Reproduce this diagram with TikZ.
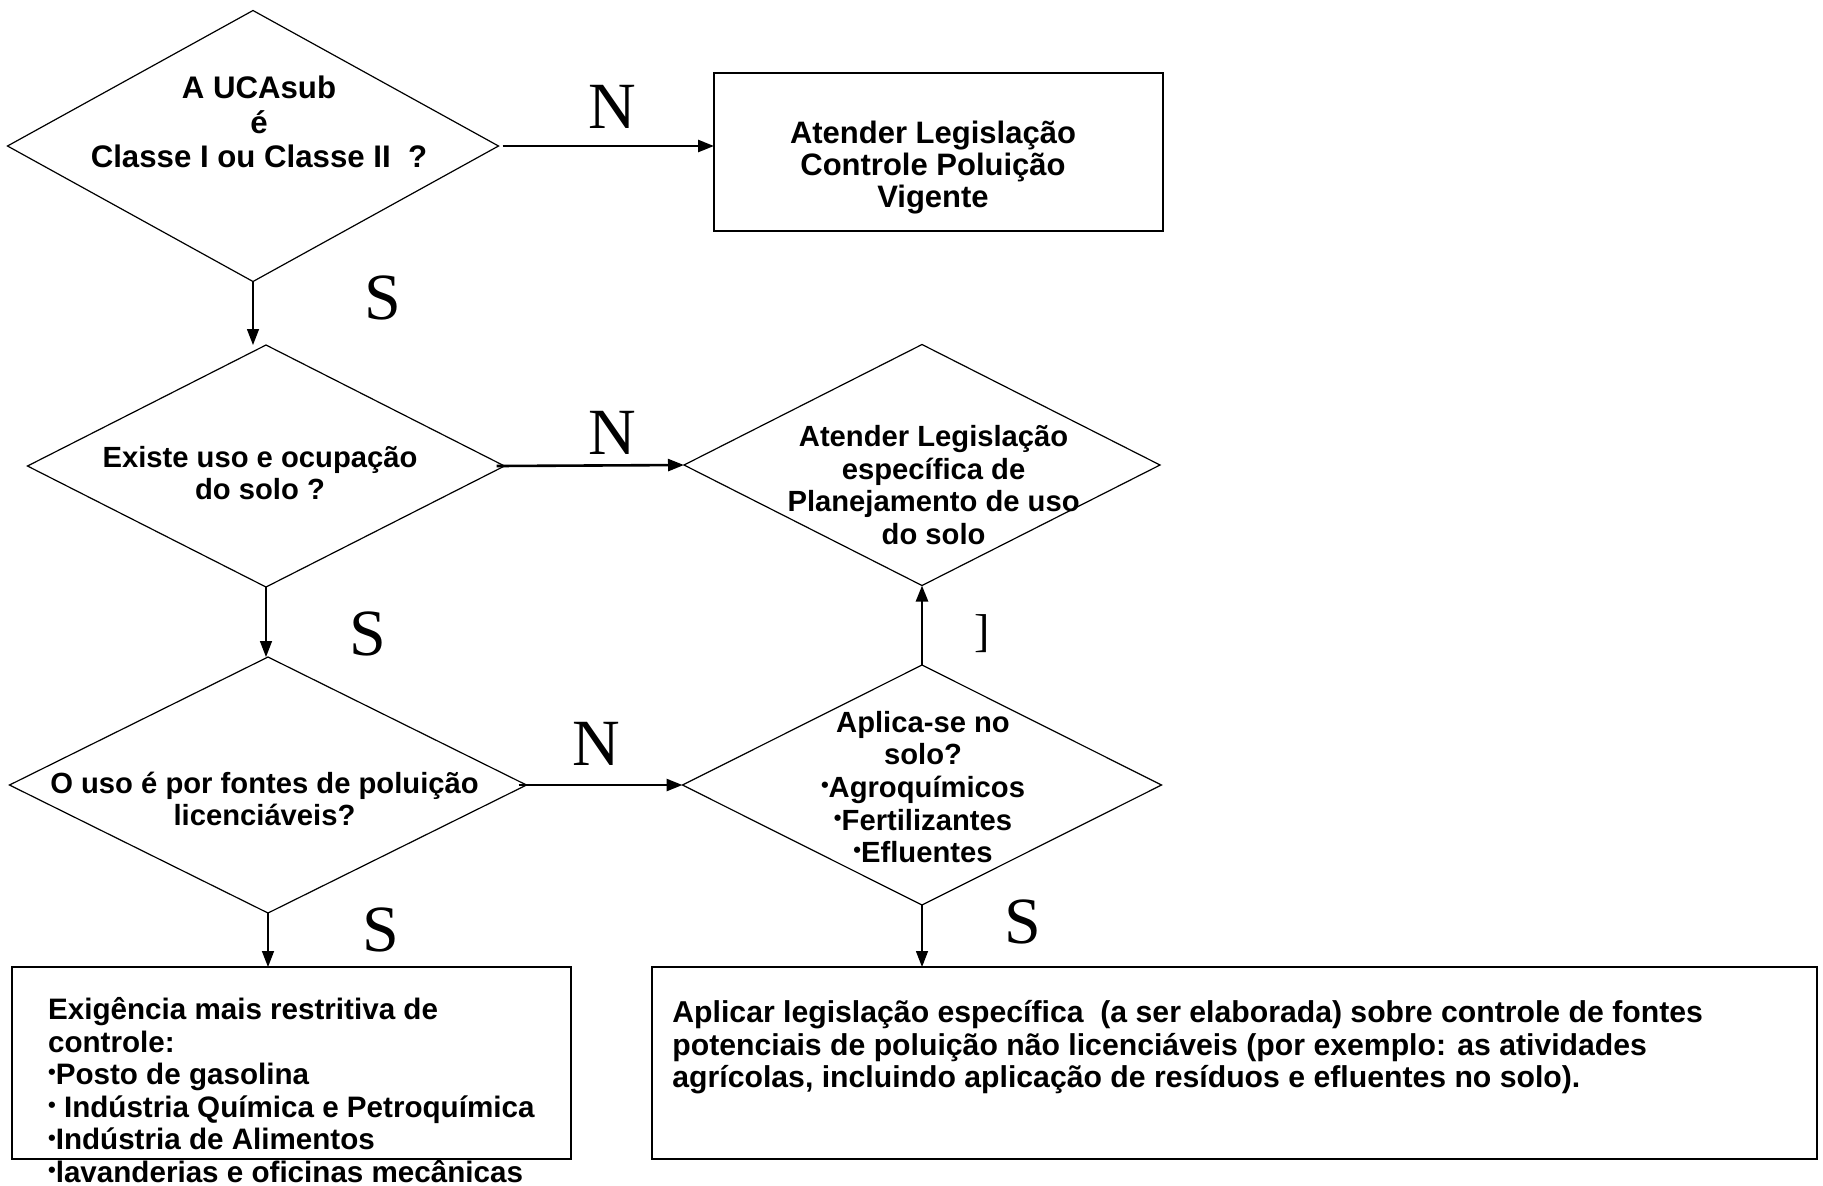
\documentclass[tikz,border=0pt]{standalone}
\usepackage{fontspec}
\setmainfont{Liberation Sans}
\newfontfamily\serifletter{Liberation Serif}
\usetikzlibrary{shapes.geometric,arrows.meta}
% small raised bullet used in the lists
\newcommand\listdot{\raisebox{2.4pt}{\fontsize{11}{11}\selectfont•}}
\begin{document}
\begin{tikzpicture}[x=0.5pt,y=-0.5pt,
  decision/.style={draw,shape=diamond,inner sep=0pt,outer sep=0pt,line width=0.6pt},
  panel/.style={draw,rectangle,inner sep=0pt,outer sep=0pt,line width=0.9pt},
  txt/.style={font=\bfseries\fontsize{14.6}{16.3}\selectfont,align=center,inner sep=0pt},
  answer/.style={font=\serifletter\fontsize{33}{33}\selectfont,inner sep=0pt},
  flow/.style={-{Triangle[length=8pt,width=6pt]},line width=0.7pt},
  flowbold/.style={-{Triangle[length=8pt,width=6pt]},line width=1.3pt}]
\useasboundingbox (0,0) rectangle (1823,1185);

% decision diamonds
\node[decision,minimum width=245.5pt,minimum height=135.5pt] (d1) at (253,146) {};
\node[decision,minimum width=238.5pt,minimum height=121pt] (d2) at (266,466) {};
\node[decision,minimum width=258.5pt,minimum height=128pt] (d5) at (268,785) {};
\node[decision,minimum width=238pt,minimum height=120.5pt] (d3) at (922,465) {};
\node[decision,minimum width=239.5pt,minimum height=120pt] (d4) at (922,785) {};

% boxes
\node[panel,minimum width=224.5pt,minimum height=79pt] (b1) at (938.5,152) {};
\node[panel,minimum width=279.5pt,minimum height=96pt] (bl) at (291.5,1063) {};
\node[panel,minimum width=582.5pt,minimum height=96pt] (br) at (1234.5,1063) {};

% texts
\node[txt,font=\bfseries\fontsize{15.6}{17.4}\selectfont] (t1) at (259,122) {A UCAsub\\é\\Classe I ou Classe II\ \ ?};
\node[txt] (t2) at (260,473) {Existe uso e ocupação\\do solo ?};
\node[txt] (t5) at (264.5,799) {O uso é por fontes de poluição\\licenciáveis?};
\node[txt] (t3) at (933.6,485) {Atender Legislação\\específica de\\Planejamento de uso\\do solo};
\node[txt] (t4) at (923,787) {Aplica-se no\\solo?\\\listdot Agroquímicos\\\listdot Fertilizantes\\\listdot Efluentes};
\node[txt,font=\bfseries\fontsize{15.5}{15.8}\selectfont] (tb1) at (933,167.5) {Atender Legislação\\Controle Poluição\\Vigente};
\node[txt,align=left,anchor=north west,font=\bfseries\fontsize{14.8}{16.3}\selectfont] (tbl) at (47.7,997) {Exigência mais restritiva de\\controle:\\\listdot Posto de gasolina\\\listdot\ Indústria Química e Petroquímica\\\listdot Indústria de Alimentos\\\listdot lavanderias e oficinas mecânicas};
\node[txt,align=left,anchor=north west,font=\bfseries\fontsize{15.1}{16.3}\selectfont] (tbr) at (672,1000) {Aplicar legislação específica\ \ (a ser elaborada) sobre controle de fontes\\potenciais de poluição não licenciáveis (por exemplo: as atividades\\agrícolas, incluindo aplicação de resíduos e efluentes no solo).};

% connectors
\draw[flowbold] ([xshift=2]d1.east) -- (d1.east -| b1.west);
\draw[flowbold] ([xshift=-4]d2.east) -- (d3.west);
\draw[flowbold] ([xshift=-4]d5.east) -- (d4.west);
\draw[flowbold] (d4.north) -- (d3.south);
\draw[flow] (d1.south) -- (d1.south |- d2.north);
\draw[flow] (d2.south) -- (d2.south |- d5.north);
\draw[flow] (d5.south) -- (d5.south |- bl.north);
\draw[flow] (d4.south) -- (d4.south |- br.north);

% answer letters
\node[answer] (n1) at (612.7,107) {N};
\node[answer] (n2) at (612.7,432.5) {N};
\node[answer] (n3) at (596.4,744) {N};
\node[answer] (s1) at (382.5,297.6) {S};
\node[answer] (s2) at (367.4,633.6) {S};
\node[answer] (s3) at (381.3,930) {S};
\node[answer] (s4) at (1023,922) {S};
\node[answer,font=\serifletter\fontsize{23}{23}\selectfont] (n4) at (982.4,633.6) {]};
\end{tikzpicture}
\end{document}
